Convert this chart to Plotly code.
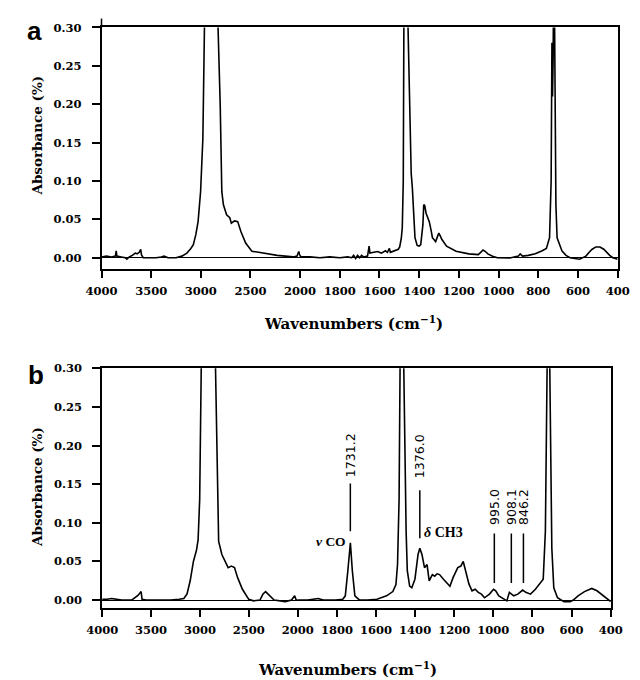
import plotly.graph_objects as go

# ---------------- data ----------------
wn_a = [4000, 3950, 3900, 3860, 3852, 3845, 3800, 3760, 3745, 3720, 3690, 3660, 3640, 3620, 3605, 3598,
        3580, 3500, 3450, 3400, 3370, 3330, 3250, 3190, 3140, 3100, 3075, 3050, 3027, 3002, 2990, 2979,
        2963, 2950, 2920, 2885, 2850, 2835, 2826, 2804, 2788, 2772, 2740, 2708, 2692, 2660, 2628, 2596,
        2548, 2485, 2405, 2309, 2230, 2150, 2070, 2030, 2013, 1995, 1950, 1900, 1850, 1800, 1760, 1740,
        1730, 1720, 1710, 1700, 1690, 1680, 1660, 1652, 1648, 1630, 1610, 1590, 1570, 1560, 1550, 1545,
        1525, 1517, 1505, 1498, 1490, 1485, 1480, 1477, 1470, 1462, 1456, 1450, 1440, 1434, 1426, 1421,
        1410, 1400, 1392, 1386, 1381, 1377, 1372, 1365, 1357, 1349, 1340, 1333, 1317, 1308, 1301, 1293,
        1286, 1262, 1214, 1150, 1102, 1090, 1078, 1066, 1054, 1030, 1006, 943, 900, 891, 879, 850,
        815, 780, 759, 743, 735, 731, 728, 725, 722, 720, 718, 715, 711, 705, 680, 660,
        640, 592, 560, 540, 528, 510, 489, 470, 456, 440, 424, 400]
abs_a = [0.001, 0.002, 0.001, 0.002, 0.009, 0.002, 0.001, 0.000, -0.002, 0.001, 0.003, 0.006, 0.005, 0.007, 0.011, 0.004,
         0.000, 0.000, 0.000, 0.001, 0.002, 0.000, 0.000, 0.002, 0.006, 0.012, 0.017, 0.030, 0.047, 0.086, 0.120, 0.155,
         0.300, 0.450, 0.700, 0.600, 0.700, 0.450, 0.300, 0.198, 0.086, 0.069, 0.056, 0.052, 0.045, 0.048, 0.047, 0.034,
         0.019, 0.0085, 0.0065, 0.005, 0.003, 0.002, 0.001, 0.002, 0.008, 0.001, 0.001, 0.000, 0.001, 0.000, 0.001, 0.000,
         0.003, -0.001, 0.003, 0.000, 0.003, 0.001, 0.002, 0.015, 0.006, 0.007, 0.008, 0.006, 0.009, 0.007, 0.012, 0.007,
         0.009, 0.010, 0.011, 0.014, 0.025, 0.039, 0.100, 0.300, 0.500, 0.500, 0.300, 0.220, 0.110, 0.090, 0.040, 0.026,
         0.016, 0.015, 0.017, 0.028, 0.043, 0.069, 0.068, 0.058, 0.052, 0.047, 0.036, 0.026, 0.021, 0.028, 0.032, 0.028,
         0.024, 0.015, 0.0085, 0.005, 0.004, 0.007, 0.010, 0.008, 0.005, 0.002, 0.000, -0.0005, 0.002, 0.005, 0.002, 0.003,
         0.005, 0.009, 0.012, 0.026, 0.100, 0.280, 0.210, 0.260, 0.320, 0.450, 0.320, 0.150, 0.069, 0.026, 0.0085, 0.003,
         0.000, -0.002, 0.002, 0.008, 0.011, 0.014, 0.014, 0.011, 0.007, 0.003, 0.000, -0.002]

wn_b = [4000, 3950, 3903, 3850, 3800, 3700, 3666, 3634, 3602, 3592, 3550, 3400, 3300, 3213, 3165, 3132,
        3100, 3067, 3035, 3019, 3003, 2987, 2970, 2920, 2880, 2850, 2841, 2825, 2809, 2776, 2744, 2712,
        2679, 2647, 2615, 2566, 2501, 2452, 2387, 2355, 2329, 2290, 2242, 2129, 2064, 2032, 2016, 1950,
        1907, 1895, 1870, 1838, 1805, 1770, 1757, 1744, 1731, 1721, 1708, 1684, 1643, 1595, 1546, 1514,
        1498, 1490, 1482, 1477, 1470, 1462, 1458, 1453, 1446, 1440, 1428, 1417, 1401, 1385, 1376, 1365,
        1352, 1339, 1328, 1312, 1300, 1288, 1275, 1255, 1239, 1222, 1206, 1182, 1166, 1154, 1142, 1125,
        1109, 1093, 1077, 1061, 1045, 1020, 999, 988, 972, 947, 931, 918, 907, 896, 875, 850,
        834, 810, 785, 761, 745, 734, 729, 726, 721, 716, 712, 708, 701, 691, 672, 639,
        607, 591, 567, 534, 497, 470, 437, 410, 400]
abs_b = [0.001, 0.001, 0.002, 0.001, 0.000, 0.000, 0.003, 0.006, 0.011, 0.001, 0.000, 0.000, 0.000, 0.001, 0.002, 0.008,
         0.025, 0.050, 0.065, 0.078, 0.130, 0.300, 0.500, 0.800, 0.600, 0.800, 0.300, 0.174, 0.076, 0.059, 0.050, 0.042,
         0.044, 0.042, 0.029, 0.014, 0.001, -0.001, 0.000, 0.008, 0.011, 0.0055, 0.000, -0.002, 0.000, 0.0055, 0.000, 0.000,
         0.002, 0.002, 0.000, 0.000, 0.000, 0.001, 0.0055, 0.038, 0.074, 0.038, 0.0055, 0.000, 0.000, 0.001, 0.0055, 0.011,
         0.020, 0.046, 0.130, 0.300, 0.600, 0.600, 0.300, 0.174, 0.089, 0.038, 0.018, 0.016, 0.027, 0.059, 0.067, 0.059,
         0.042, 0.046, 0.025, 0.033, 0.031, 0.034, 0.033, 0.027, 0.022, 0.018, 0.029, 0.042, 0.044, 0.050, 0.038, 0.021,
         0.012, 0.014, 0.010, 0.0077, 0.003, 0.0077, 0.014, 0.012, 0.0055, 0.0013, -0.001, 0.010, 0.0077, 0.0055, 0.0077, 0.013,
         0.010, 0.0077, 0.014, 0.021, 0.027, 0.089, 0.247, 0.250, 0.400, 0.400, 0.300, 0.174, 0.067, 0.016, 0.003, -0.002,
         -0.002, 0.000, 0.0055, 0.011, 0.015, 0.012, 0.0055, 0.000, -0.002]

ticks_hi = [4000, 3500, 3000, 2500, 2000]
ticks_lo = [1800, 1600, 1400, 1200, 1000, 800, 600, 400]
y_ticks = [0.00, 0.05, 0.10, 0.15, 0.20, 0.25, 0.30]
peak_labels = ["1731.2", "1376.0", "995.0", "908.1", "846.2"]
peak_wn = [1731.2, 1376.0, 995.0, 908.1, 846.2]

# ---------------- layout helpers ----------------
W, H = 640, 680


def px(v):
    return v / W


def py(v):
    return 1 - v / H


BLACK = "black"
tickfont = dict(family="DejaVu Serif", size=11.5, color=BLACK, weight="bold")
titlefont = dict(family="DejaVu Serif", size=15, color=BLACK, weight="bold")
ytitlefont = dict(family="DejaVu Serif", size=13.5, color=BLACK, weight="bold")

fig = go.Figure()
for wn, ab, xa, ya in [(wn_a, abs_a, "x", "y"), (wn_a, abs_a, "x2", "y2"),
                       (wn_b, abs_b, "x3", "y3"), (wn_b, abs_b, "x4", "y4")]:
    fig.add_trace(go.Scatter(x=wn, y=ab, xaxis=xa, yaxis=ya, mode="lines",
                             line=dict(color=BLACK, width=1.6),
                             showlegend=False, hoverinfo="skip"))


def xax(dom, rng, vals, anchor):
    return dict(domain=dom, range=rng, anchor=anchor, tickvals=vals,
                ticktext=[str(v) for v in vals], showline=True, linecolor=BLACK,
                linewidth=1.5, mirror=True, ticks="outside", ticklen=7, tickwidth=1.5,
                tickcolor=BLACK, showgrid=False, zeroline=False, tickfont=tickfont,
                ticklabelstandoff=3)


def yax(dom, rng, anchor, main=True, match=None):
    d = dict(domain=dom, range=rng, anchor=anchor, showgrid=False, zeroline=True,
             zerolinecolor=BLACK, zerolinewidth=1.4, showline=True, linecolor=BLACK,
             linewidth=1.5)
    if main:
        d.update(tickvals=y_ticks, tickformat=".2f", ticks="outside", ticklen=8,
                 tickwidth=1.5, tickcolor=BLACK, tickfont=tickfont, ticklabelstandoff=8)
    else:
        d.update(side="right", ticks="", showticklabels=False, matches=match)
    return d


# panel a geometry (pixels)
a_l, a_m, a_r, a_t, a_b = 90, 299, 633.3, 20.7, 265
# panel b geometry (pixels)
b_l, b_m, b_r, b_t, b_b = 90.7, 296.6, 626, 365, 607.3

fig.update_layout(
    width=W, height=680, margin=dict(l=0, r=0, t=0, b=0),
    paper_bgcolor="white", plot_bgcolor="white",
    xaxis=xax([px(a_l), px(a_m)], [4000, 2000], ticks_hi, "y"),
    xaxis2=xax([px(a_m), px(a_r)], [2000, 400], ticks_lo, "y2"),
    xaxis3=xax([px(b_l), px(b_m)], [4000, 2000], ticks_hi, "y3"),
    xaxis4=xax([px(b_m), px(b_r)], [2000, 400], ticks_lo, "y4"),
    yaxis=yax([py(a_b), py(a_t)], [-0.0151, 0.30], "x"),
    yaxis2=yax([py(a_b), py(a_t)], [-0.0151, 0.30], "x2", main=False, match="y"),
    yaxis3=yax([py(b_b), py(b_t)], [-0.0103, 0.30], "x3"),
    yaxis4=yax([py(b_b), py(b_t)], [-0.0103, 0.30], "x4", main=False, match="y3"),
)

ann = []
C = dict(xanchor="center", yanchor="middle", showarrow=False)
# panel letters
ann.append(dict(text="<b>a</b>", x=px(19), y=py(24), xref="paper", yref="paper",
                font=dict(family="Liberation Sans", size=26, color=BLACK), **C))
ann.append(dict(text="<b>b</b>", x=px(21), y=py(372), xref="paper", yref="paper",
                font=dict(family="Liberation Sans", size=26, color=BLACK), **C))
# axis titles
for yc in (130, 485):
    ann.append(dict(text="Absorbance (%)", x=px(22), y=py(yc), xref="paper", yref="paper",
                    textangle=-90, font=ytitlefont, **C))
for xc, yc in ((355, 319), (349, 669)):
    ann.append(dict(text="Wavenumbers (cm<sup>−1</sup>)", x=px(xc), y=py(yc), xref="paper",
                    yref="paper", font=titlefont, **C))

# peak labels in panel b
label_y = [0.188, 0.186, 0.121, 0.121, 0.121]
line_y = [(0.089, 0.151), (0.080, 0.142), (0.022, 0.086), (0.022, 0.086), (0.022, 0.086)]
shapes = []
for lab, w, ly, (y0, y1) in zip(peak_labels, peak_wn, label_y, line_y):
    ann.append(dict(text=lab, x=w, y=ly, xref="x4", yref="y3", textangle=-90,
                    font=dict(family="DejaVu Sans", size=12.5, color=BLACK), **C))
    shapes.append(dict(type="line", xref="x4", yref="y3", x0=w, x1=w, y0=y0, y1=y1,
                       line=dict(color=BLACK, width=1.5)))

ann.append(dict(text="<i>ν</i> CO", x=1830, y=0.076, xref="x4", yref="y3",
                font=dict(family="Liberation Serif", size=13.5, color=BLACK, weight="bold"), **C))
ann.append(dict(text="<i>δ</i> CH3", x=1367, y=0.088, xref="x4", yref="y3", xanchor="left",
                yanchor="middle", showarrow=False,
                font=dict(family="Liberation Serif", size=14, color=BLACK, weight="bold")))

# small overhang of the left axis above panel a
shapes.append(dict(type="line", xref="paper", yref="paper", x0=px(a_l), x1=px(a_l),
                   y0=py(a_t), y1=py(11.7), line=dict(color=BLACK, width=1.5)))

fig.update_layout(annotations=ann, shapes=shapes)
fig.write_html("out.html")
